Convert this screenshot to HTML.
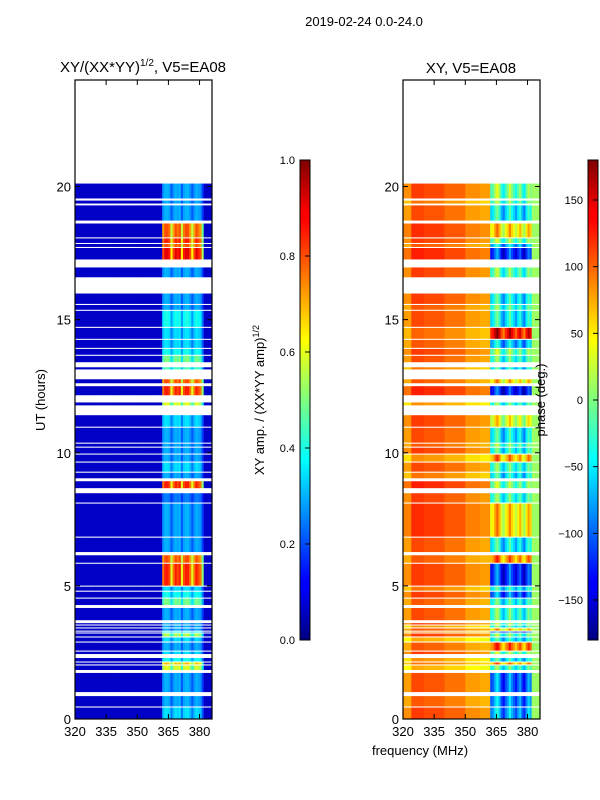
<!DOCTYPE html>
<html><head><meta charset="utf-8">
<style>
html,body{margin:0;padding:0;background:#fff;}
svg{display:block;font-family:"Liberation Sans","DejaVu Sans",sans-serif;}
</style></head>
<body>
<svg id="fig" width="600" height="800" viewBox="0 0 600 800" xmlns="http://www.w3.org/2000/svg">
<defs>
<linearGradient id="jetV" x1="0" y1="1" x2="0" y2="0">
<stop offset="0" stop-color="#00007f"/><stop offset="0.11" stop-color="#0000ff"/>
<stop offset="0.125" stop-color="#0000ff"/><stop offset="0.34" stop-color="#00dbff"/>
<stop offset="0.375" stop-color="#0ff"/><stop offset="0.5" stop-color="#7fff7f"/>
<stop offset="0.625" stop-color="#ff0"/><stop offset="0.66" stop-color="#ffdb00"/>
<stop offset="0.875" stop-color="#ff0000"/><stop offset="0.89" stop-color="#f00"/>
<stop offset="1" stop-color="#7f0000"/>
</linearGradient>
</defs>
<text x="364" y="26" font-size="13" text-anchor="middle">2019-02-24 0.0-24.0</text>
<text x="143" y="72" font-size="15" text-anchor="middle">XY/(XX*YY)<tspan font-size="10" dy="-6">1/2</tspan><tspan dy="6">, V5=EA08</tspan></text>
<text x="471" y="73" font-size="15" text-anchor="middle">XY, V5=EA08</text>
<g id="left"></g>
<g id="right"></g>
<text transform="translate(45,400) rotate(-90)" font-size="13" text-anchor="middle">UT (hours)</text>
<text x="420" y="755" font-size="13" text-anchor="middle">frequency (MHz)</text>
<rect x="300" y="160" width="10" height="480" fill="url(#jetV)" stroke="#000" stroke-width="1"/>
<rect x="588" y="160" width="10" height="480" fill="url(#jetV)" stroke="#000" stroke-width="1"/>
<g id="cb1"></g>
<g id="cb2"></g>
<text transform="translate(264,400) rotate(-90)" font-size="13" text-anchor="middle">XY amp. / (XX*YY amp)<tspan font-size="9" dy="-5">1/2</tspan></text>
<text transform="translate(545,400) rotate(-90)" font-size="13" text-anchor="middle">phase (deg.)</text>
</svg>
<script>
// data segments (hours)
const segStart=[0,0.47,1.01,1.84,2.05,2.16,2.44,2.57,2.91,3.10,3.25,3.32,3.44,3.55,3.71,4.28,4.56,4.82,5.01,5.87,6.27,6.85,8.13,8.67,9.04,9.29,9.67,9.97,10.23,10.38,10.98,11.78,12.16,12.61,13.13,13.40,13.68,13.94,14.28,14.73,15.37,15.59,16.59,17.26,17.73,17.88,18.09,18.72,19.36,19.55];
const segEnd=[0.43,0.86,1.73,2.01,2.12,2.29,2.53,2.87,3.06,3.21,3.28,3.40,3.51,3.60,4.17,4.52,4.78,4.97,5.83,6.15,6.81,8.09,8.48,8.93,9.25,9.63,9.93,10.19,10.34,10.94,11.41,11.89,12.50,12.76,13.21,13.64,13.90,14.24,14.69,15.33,15.55,15.98,16.96,17.69,17.84,18.05,18.61,19.29,19.47,20.11];
const ampLevel=[0.35,0.3,0.3,0.6,0.7,0.4,0.35,0.3,0.35,0.55,0.4,0.3,0.3,0.3,0.3,0.5,0.4,0.35,0.85,0.8,0.3,0.3,0.25,0.85,0.3,0.35,0.3,0.3,0.3,0.3,0.35,0.6,0.85,0.8,0.45,0.5,0.4,0.35,0.35,0.4,0.3,0.3,0.3,0.9,0.8,0.85,0.8,0.3,0.3,0.3];
const phaseLow=[100,90,95,60,80,70,100,90,60,100,80,90,70,100,95,90,100,80,100,90,95,105,100,110,80,95,70,100,90,95,100,70,110,90,80,95,100,90,85,95,90,100,100,110,90,100,105,95,80,100];
const phaseHigh=[-90,-100,-110,-40,60,-60,-20,80,-60,-30,-120,40,-40,-20,-40,-50,-110,-60,-130,70,-60,40,-40,-20,-60,-40,60,-50,-30,-60,20,-40,-140,40,-60,-40,-20,-80,120,-60,-40,-60,-30,-130,-80,-20,40,-60,-30,-20];
// frequency bins (MHz)
const binEdges=[320,324,330,340,350,357,362,363,364,365,366,367,368,369,370,371,372,373,374,375,376,377,378,379,380,381,382,386];
const ampProfile=[0.15,0.12,0.12,0.12,0.12,0.15,0.9,1,1,0.95,0.7,0.9,1,0.95,1,0.7,0.95,1,1,0.9,0.7,0.9,1,0.95,0.9,0.6,0.1];
const phaseOffset=[-15,15,10,0,-15,-20,0,10,40,60,30,-10,-30,0,20,50,20,0,-20,10,30,-10,-30,10,40,20,null];
const edgePhase=10;
const yTicks=[0,5,10,15,20];
const xTicks=[320,335,350,365,380];
const ampTicks=[0.0,0.2,0.4,0.6,0.8,1.0];
const phTicks=[-150,-100,-50,0,50,100,150];

const NS="http://www.w3.org/2000/svg";
function jet(v){v=Math.max(0,Math.min(1,v));
 const c=x=>Math.round(255*Math.max(0,Math.min(1,x)));
 return `rgb(${c(1.5-Math.abs(4*v-3))},${c(1.5-Math.abs(4*v-2))},${c(1.5-Math.abs(4*v-1))})`;}
function el(tag,attrs,parent){const e=document.createElementNS(NS,tag);for(const k in attrs)e.setAttribute(k,attrs[k]);parent.appendChild(e);return e;}
const Y0=719,Y1=80,H0=0,H1=24;
function yS(h){return Y0-(h-H0)/(H1-H0)*(Y0-Y1);}
function wrapPh(p){while(p>180)p-=360;while(p<-180)p+=360;return p;}

function panel(gid,x0,kind){
 const g=document.getElementById(gid);
 const W=137,F0=320,F1=386;
 const xS=f=>x0+(f-F0)/(F1-F0)*W;
 for(let s=0;s<segStart.length;s++){
  for(let b=0;b<binEdges.length-1;b++){
   let v;
   if(kind==='amp'){
     v = b<=5 ? 0.07 : (b===binEdges.length-2 ? 0.07 : ampLevel[s]*ampProfile[b]);
   } else {
     let p;
     if(phaseOffset[b]===null) p=edgePhase;
     else if(b<=5) p=phaseLow[s]+phaseOffset[b];
     else p=phaseHigh[s]+phaseOffset[b];
     v=(wrapPh(p)+180)/360;
   }
   const r=el('rect',{x:xS(binEdges[b]).toFixed(2),y:yS(segEnd[s]).toFixed(2),width:(xS(binEdges[b+1])-xS(binEdges[b])+0.3).toFixed(2),height:(yS(segStart[s])-yS(segEnd[s])).toFixed(2),fill:jet(v)},g);
   
   
  }
 }
 const fr=el('rect',{x:x0,y:Y1,width:W,height:Y0-Y1,fill:'none',stroke:'#000','stroke-width':1.2},g);
 
 
 yTicks.forEach(t=>{
  const y=yS(t);
  el('line',{x1:x0,x2:x0+5,y1:y,y2:y,stroke:'#000'},g);
  el('line',{x1:x0+W-5,x2:x0+W,y1:y,y2:y,stroke:'#000'},g);
  const tx=el('text',{x:x0-4,y:y+5,'font-size':13,'text-anchor':'end'},g);
  tx.textContent=t;
  
  
 });
 xTicks.forEach(t=>{
  const x=xS(t);
  el('line',{x1:x,x2:x,y1:Y0,y2:Y0-5,stroke:'#000'},g);
  el('line',{x1:x,x2:x,y1:Y1,y2:Y1+5,stroke:'#000'},g);
  const tx=el('text',{x:x,y:Y0+17,'font-size':13,'text-anchor':'middle'},g);
  tx.textContent=t;
  
  
 });
}
panel('left',75,'amp');
panel('right',403,'phase');

function cbar(gid,x,ticks,lo,hi,fmt){
 const g=document.getElementById(gid);
 ticks.forEach(t=>{
  const y=640-(t-lo)/(hi-lo)*480;
  el('line',{x1:x+5,x2:x+10,y1:y,y2:y,stroke:'#000'},g);
  const tx=el('text',{x:x-5,y:y+4,'font-size':11,'text-anchor':'end'},g);
  tx.textContent=fmt(t);
  
  
 });
}
cbar('cb1',300,ampTicks,0,1,t=>t.toFixed(1));
cbar('cb2',588,phTicks,-180,180,t=>t<0?'\u2212'+(-t):String(t));
</script>
</body></html>
